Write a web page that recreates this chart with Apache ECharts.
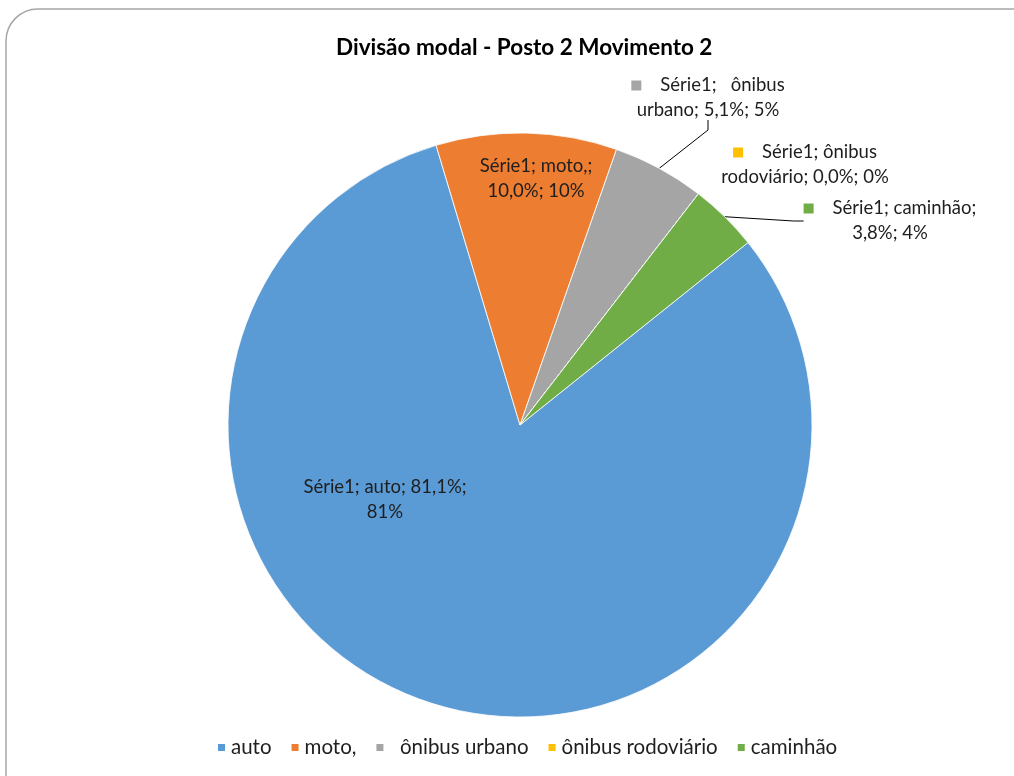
<!DOCTYPE html>
<html>
<head>
<meta charset="utf-8">
<script src="https://cdn.jsdelivr.net/npm/echarts@6/dist/echarts.min.js"></script>
<style>
html,body{margin:0;padding:0;background:#fff;}
#chart{width:1014px;height:776px;}
</style>
</head>
<body>
<div id="chart"></div>
<script>
// ---- data ----
const titleText = 'Divisão modal - Posto 2 Movimento 2';
const seriesName = 'Série1';
const categories = ['auto', 'moto,', '  ônibus urbano', 'ônibus rodoviário', 'caminhão'];
const values = [81.1, 10.0, 5.1, 0.0, 3.8];
const colors = ['#5B9BD5', '#ED7D31', '#A5A5A5', '#FFC000', '#70AD47'];

// ---- layout (label placement, not data) ----
const labelInside = [true, true, false, false, false];
const labelKey = [false, false, true, true, true];
const labelLineShow = [false, false, true, false, true];
const labelBreakAfter = [3, 2, 2, 2, 2];
const labelPos = [[385, 500], [536, 179], [708, 98], [805, 165], [890, 221]];

const total = values.reduce((a, b) => a + b, 0);
function fmt1(v) { return v.toFixed(1).replace('.', ','); }

function labelText(i) {
  const pct = values[i] / total * 100;
  const full = seriesName + '; ' + categories[i] + '; ' + fmt1(pct) + '%; ' + Math.round(pct) + '%';
  const tokens = full.split(/ (?=\S)/);
  const l1 = tokens.slice(0, labelBreakAfter[i]).join(' ');
  const l2 = tokens.slice(labelBreakAfter[i]).join(' ');
  return (labelKey[i] ? '{sq|}{t|    ' + l1 + '}' : '{t|' + l1 + '}') + '\n{t|' + l2 + '}';
}

const data = categories.map((c, i) => ({
  name: c,
  value: values[i],
  itemStyle: { color: colors[i] },
  label: {
    position: labelInside[i] ? 'inside' : 'outside',
    formatter: labelText(i),
    rich: {
      sq: { width: 10, height: 10, backgroundColor: colors[i] },
      t: { fontFamily: 'Lato', fontSize: 18.5, color: '#1e1e1e', lineHeight: 25 }
    }
  },
  labelLine: { show: labelLineShow[i] }
}));

const chart = echarts.init(document.getElementById('chart'), null, { renderer: 'canvas' });
chart.setOption({
  backgroundColor: '#ffffff',
  animation: false,
  title: {
    text: titleText,
    left: 331,
    top: 31,
    textStyle: { fontFamily: 'Lato', fontSize: 22.5, fontWeight: 'bold', color: '#000' }
  },
  legend: {
    bottom: 13,
    left: 211,
    itemWidth: 9,
    itemHeight: 9,
    itemGap: 18,
    icon: 'rect',
    textStyle: { fontFamily: 'Lato', fontSize: 20.5, color: '#1e1e1e' },
    data: categories
  },
  graphic: [{
    type: 'rect',
    shape: { x: 6, y: 9, width: 1040, height: 820, r: 32 },
    style: { fill: 'none', stroke: '#a6a6a6', lineWidth: 1.5 },
    silent: true,
    z: -1
  }],
  series: [{
    type: 'pie',
    name: seriesName,
    center: [520, 425],
    radius: 292,
    startAngle: 38.66,
    clockwise: true,
    avoidLabelOverlap: false,
    stillShowZeroSum: true,
    itemStyle: { borderColor: '#ffffff', borderWidth: 0.8 },
    label: { show: true, align: 'center' },
    labelLine: { lineStyle: { color: '#000', width: 1 }, length: 10, length2: 10 },
    labelLayout: function (params) {
      const p = labelPos[params.dataIndex];
      return { x: p[0], y: p[1], align: 'center', verticalAlign: 'middle' };
    },
    emphasis: { disabled: true },
    data: data
  }]
});
</script>
</body>
</html>
